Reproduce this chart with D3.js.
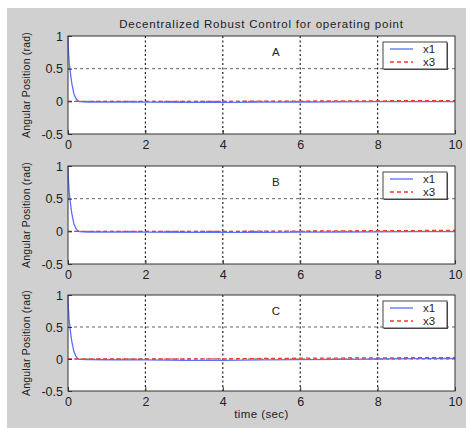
<!DOCTYPE html>
<html>
<head>
<meta charset="utf-8">
<script src="https://cdn.jsdelivr.net/npm/d3@7"></script>
<style>
  body { margin: 0; background: #fff; }
  svg { display: block; font-family: "Liberation Sans", Arial, sans-serif; }
</style>
</head>
<body>
<svg id="chart" width="466" height="428"></svg>
<script>
// time samples (sec)
const time = [0, 0.01, 0.03, 0.05, 0.08, 0.1, 0.15, 0.2, 0.25, 0.3, 0.5, 1, 2, 3, 4, 5, 6, 7, 8, 9, 10];

// x1 responses for panels A, B, C
const x1A = [1, 0.8, 0.6, 0.5, 0.35, 0.27, 0.12, 0.05, 0.01, -0.005, -0.01, -0.01, -0.012, -0.014, -0.015, -0.013, -0.01, -0.008, -0.006, -0.004, -0.003];
const x1B = [1, 0.8, 0.6, 0.5, 0.35, 0.27, 0.12, 0.05, 0.01, -0.005, -0.01, -0.01, -0.012, -0.014, -0.016, -0.015, -0.013, -0.01, -0.007, -0.005, -0.004];
const x1C = [1, 0.8, 0.6, 0.5, 0.35, 0.27, 0.12, 0.05, 0.01, -0.005, -0.01, -0.012, -0.015, -0.02, -0.02, -0.015, -0.01, -0.005, 0, 0.005, 0.008];

// x3 responses for panels A, B, C
const x3A = [0, 0, 0, 0, 0, 0, 0, 0, 0, 0, 0, 0, 0, 0, 0, 0.002, 0.004, 0.006, 0.008, 0.01, 0.012];
const x3B = [0, 0, 0, 0, 0, 0, 0, 0, 0, 0, 0, 0, 0, 0, 0, 0.002, 0.004, 0.007, 0.01, 0.012, 0.014];
const x3C = [0, 0, 0, 0, 0, 0, 0, 0, 0, 0, 0, 0, 0, 0, 0.003, 0.008, 0.012, 0.015, 0.018, 0.02, 0.022];

const panelLabels = ['A', 'B', 'C'];
const xTicks = [0, 2, 4, 6, 8, 10];
const yTicks = [-0.5, 0, 0.5, 1];
const legendNames = ['x1', 'x3'];

const panels = [
  { label: panelLabels[0], x1: x1A, x3: x3A, top: 36, bottom: 134 },
  { label: panelLabels[1], x1: x1B, x3: x3B, top: 166, bottom: 264 },
  { label: panelLabels[2], x1: x1C, x3: x3C, top: 295, bottom: 391 }
];

const svg = d3.select('#chart');
svg.append('rect').attr('x', 7).attr('y', 8).attr('width', 459).attr('height', 420).attr('fill', '#d0d0d0');

const left = 68, right = 455;
const x = d3.scaleLinear().domain([0, 10]).range([left, right]);

const blue = '#5a70ff', red = '#f23b2a';

svg.append('text')
  .attr('x', (left + right) / 2).attr('y', 28)
  .attr('text-anchor', 'middle')
  .attr('font-size', 11.5).attr('letter-spacing', 0.8).attr('fill', '#222')
  .text('Decentralized Robust Control for operating point');

for (const p of panels) {
  const y = d3.scaleLinear().domain([-0.5, 1]).range([p.bottom, p.top]);
  const g = svg.append('g');

  g.append('rect')
    .attr('x', left).attr('y', p.top)
    .attr('width', right - left).attr('height', p.bottom - p.top)
    .attr('fill', '#fff');

  // grid
  g.selectAll('.vgrid').data(xTicks.slice(1, -1)).join('line')
    .attr('x1', d => x(d)).attr('x2', d => x(d))
    .attr('y1', p.top).attr('y2', p.bottom)
    .attr('stroke', '#222').attr('stroke-width', 1.2).attr('stroke-dasharray', '2,2.5');
  g.selectAll('.hgrid').data(yTicks.slice(1, -1)).join('line')
    .attr('x1', left).attr('x2', right)
    .attr('y1', d => y(d)).attr('y2', d => y(d))
    .attr('stroke', '#666').attr('stroke-width', 1).attr('stroke-dasharray', '3,3');

  const line = d3.line().x((d, i) => x(time[i])).y(d => y(d));

  g.append('path').datum(p.x1).attr('d', line)
    .attr('fill', 'none').attr('stroke', blue).attr('stroke-width', 1.3);
  g.append('path').datum(p.x3).attr('d', line)
    .attr('fill', 'none').attr('stroke', red).attr('stroke-width', 1.3)
    .attr('stroke-dasharray', '4,3');

  // frame
  g.append('rect')
    .attr('x', left).attr('y', p.top)
    .attr('width', right - left).attr('height', p.bottom - p.top)
    .attr('fill', 'none').attr('stroke', '#333').attr('stroke-width', 1);

  // axes
  const xAxis = d3.axisBottom(x).tickValues(xTicks).tickSize(-4).tickPadding(6).tickFormat(d3.format('d'));
  const ax = g.append('g').attr('transform', `translate(0,${p.bottom})`).call(xAxis);
  const yAxis = d3.axisLeft(y).tickValues(yTicks).tickSize(-4).tickPadding(5).tickFormat(d => d);
  const ay = g.append('g').attr('transform', `translate(${left},0)`).call(yAxis);
  for (const a of [ax, ay]) {
    a.select('.domain').remove();
    a.selectAll('.tick line').attr('stroke', '#333');
    a.selectAll('.tick text').attr('font-size', 12.5).attr('fill', '#222')
      .attr('font-family', '"Liberation Sans", Arial, sans-serif');
  }

  g.append('text')
    .attr('transform', `translate(30,${(p.top + p.bottom) / 2}) rotate(-90)`)
    .attr('text-anchor', 'middle')
    .attr('font-size', 10.5).attr('letter-spacing', 0.2).attr('fill', '#222')
    .text('Angular Position (rad)');

  g.append('text')
    .attr('x', x(5.37)).attr('y', p.top + 20)
    .attr('text-anchor', 'middle')
    .attr('font-size', 11.5).attr('fill', '#222')
    .text(p.label);

  // legend
  const lg = g.append('g').attr('transform', `translate(383,${p.top + 6})`);
  lg.append('rect').attr('x', 1).attr('y', 1).attr('width', 64).attr('height', 27)
    .attr('fill', '#444');
  lg.append('rect').attr('width', 64).attr('height', 27)
    .attr('fill', '#fff').attr('stroke', '#444').attr('stroke-width', 1);
  legendNames.forEach((name, i) => {
    const ly = 7 + i * 13;
    lg.append('line').attr('x1', 7).attr('x2', 30).attr('y1', ly).attr('y2', ly)
      .attr('stroke', i === 0 ? blue : red).attr('stroke-width', 1.3)
      .attr('stroke-dasharray', i === 0 ? null : '4,3');
    lg.append('text').attr('x', 40).attr('y', ly + 4)
      .attr('font-size', 11.5).attr('fill', '#222').text(name);
  });
}

svg.append('text')
  .attr('x', (left + right) / 2).attr('y', 418)
  .attr('text-anchor', 'middle')
  .attr('font-size', 11.5).attr('letter-spacing', 0.4).attr('fill', '#222')
  .text('time (sec)');
</script>
</body>
</html>
